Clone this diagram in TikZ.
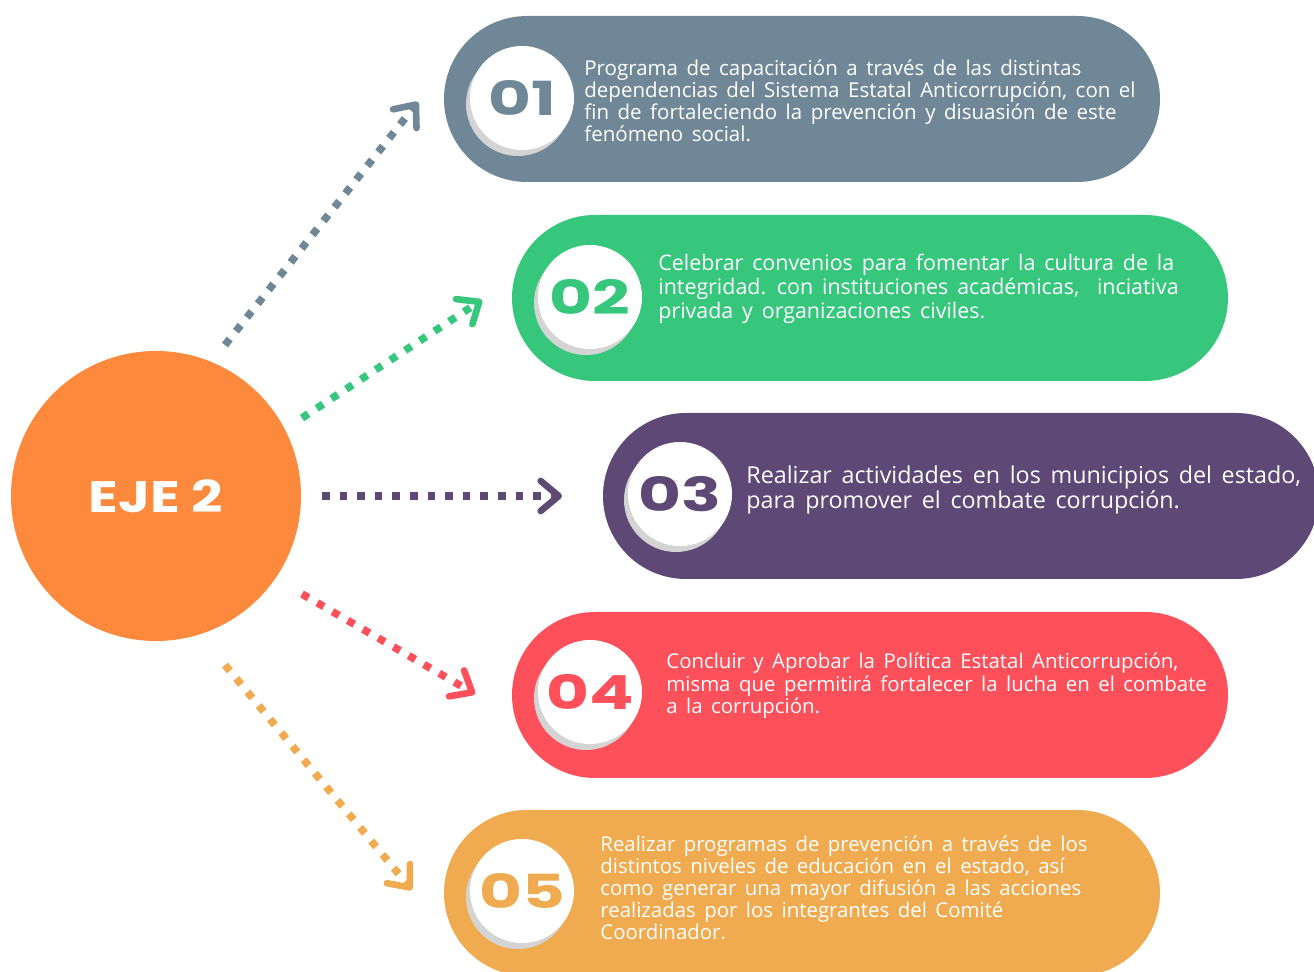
\documentclass[tikz,border=0pt]{standalone}
\usepackage{fontspec}
\usetikzlibrary{arrows.meta,shapes.misc}
\newfontfamily\bodyfont[WordSpace=1.6]{Open Sans}
\newfontfamily\numfont[FakeStretch=1.4]{Poppins}
\newfontfamily\ejefont[FakeStretch=1.25]{Poppins}
\definecolor{cgray}{RGB}{111,135,151}
\definecolor{cgreen}{RGB}{54,199,124}
\definecolor{cpurple}{RGB}{94,72,118}
\definecolor{cred}{RGB}{253,80,90}
\definecolor{cyellow}{RGB}{240,171,80}
\definecolor{corange}{RGB}{253,137,60}
\definecolor{cshadow}{RGB}{212,212,212}
\tikzset{
  pill/.style={rounded rectangle, fill=#1, minimum width=358pt, minimum height=83pt, inner sep=0pt},
  numbox/.style={circle, fill=white, minimum size=52pt, inner sep=0pt, text=#1,
    font=\numfont\bfseries\fontsize{23.5}{23.5}\selectfont},
  bodytext/.style n args={2}{anchor=west, align=left, inner sep=0pt, text=white,
    font=\bodyfont\fontsize{#1}{#2}\selectfont},
  dotarrow/.style={draw=#1, line width=3.8pt, line cap=butt, dash pattern=on 3.8pt off 5pt,
    -{Straight Barb[length=9pt, width=15pt, line width=3.3pt, round]}},
}
\begin{document}
\begin{tikzpicture}[x=0.5pt, y=-0.5pt]
\useasboundingbox (0,0) rectangle (1314,972);
\clip (0,0) rectangle (1314,972);
% pills
\node[pill=cgray] (p1) at (802,99) {};
\node[pill=cgreen] (p2) at (870,298) {};
\node[pill=cpurple] (p3) at (961,496) {};
\node[pill=cred] (p4) at (870,695) {};
\node[pill=cyellow] (p5) at (802,893) {};
% number circle positions
\coordinate (c1) at (522,98);
\coordinate (c2) at (590,297);
\coordinate (c3) at (680,494);
\coordinate (c4) at (590,692);
\coordinate (c5) at (522,891);
\foreach \c in {c1,c2,c3,c4,c5}{
  \fill[cshadow] ([shift={(-4,6)}]\c) circle[radius=26pt];
}
\node[numbox=cgray] (n1) at (c1) {01};
\node[numbox=cgreen] (n2) at (c2) {02};
\node[numbox=cpurple] (n3) at (c3) {03};
\node[numbox=cred] (n4) at (c4) {04};
\node[numbox=cyellow] (n5) at (c5) {05};
% texts
\node[bodytext={10.25}{11}] (t1) at (584,101) {Programa de capacitación a través de las distintas\\dependencias del Sistema Estatal Anticorrupción, con el\\fin de fortaleciendo la prevención y disuasión de este\\fenómeno social.};
\node[bodytext={10.7}{12}] (t2) at (658,289) {Celebrar convenios para fomentar la cultura de la\\integridad. con instituciones académicas,\ \ inciativa\\privada y organizaciones civiles.};
\node[bodytext={11.65}{12.5}] (t3) at (746,490) {Realizar actividades en los municipios del estado,\\para promover el combate corrupción.};
\node[bodytext={10.2}{11.25}] (t4) at (666,686) {Concluir y Aprobar la Política Estatal Anticorrupción,\\misma que permitirá fortalecer la lucha en el combate\\a la corrupción.};
\node[bodytext={10.2}{11}] (t5) at (600,888) {Realizar programas de prevención a través de los\\distintos niveles de educación en el estado, así\\como generar una mayor difusión a las acciones\\realizadas por los integrantes del Comité\\Coordinador.};
% central circle
\node[circle, fill=corange, minimum size=145pt, inner sep=0pt, text=white,
  font=\ejefont\bfseries\fontsize{22}{22}\selectfont] (eje) at (156,496) {EJE 2};
% arrow endpoints
\coordinate (a1s) at (225,345); \coordinate (a1e) at (418,102);
\coordinate (a2s) at (302,418); \coordinate (a2e) at (482,300);
\coordinate (a3s) at (322,496); \coordinate (a3e) at (562,496);
\coordinate (a4s) at (302,594); \coordinate (a4e) at (475,694);
\coordinate (a5s) at (225,665); \coordinate (a5e) at (412,890);
\draw[dotarrow=cgray] (a1s) -- (a1e);
\draw[dotarrow=cgreen] (a2s) -- (a2e);
\draw[dotarrow=cpurple] (a3s) -- (a3e);
\draw[dotarrow=cred] (a4s) -- (a4e);
\draw[dotarrow=cyellow] (a5s) -- (a5e);
\end{tikzpicture}
\end{document}
